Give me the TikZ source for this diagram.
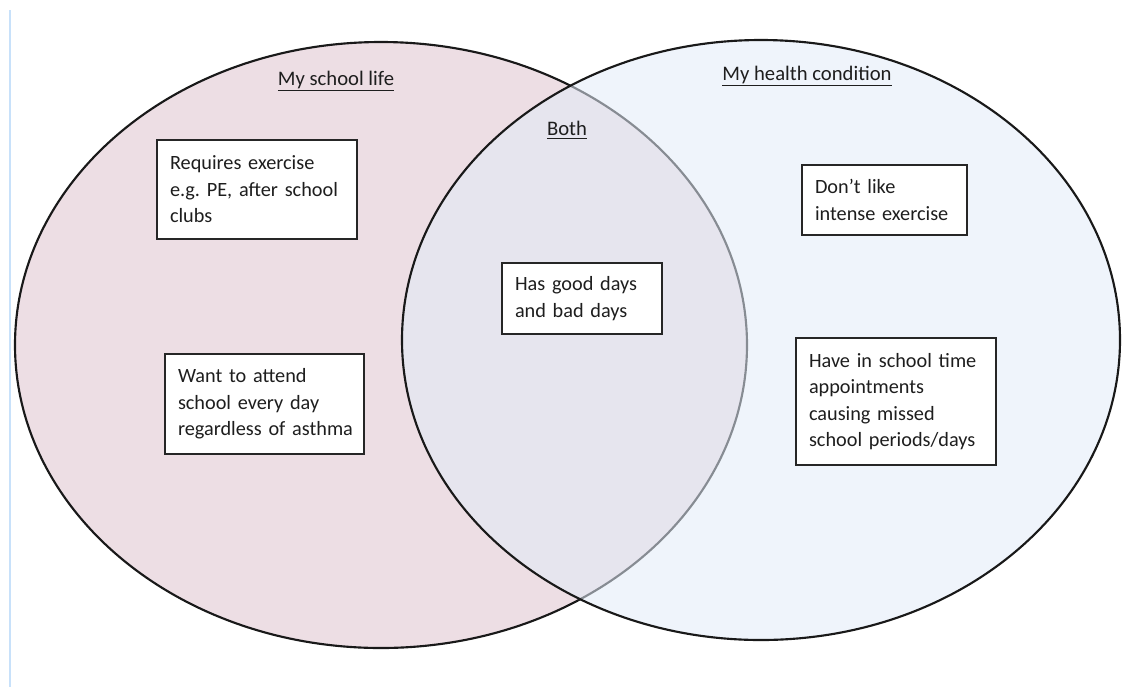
\documentclass[tikz,border=0pt]{standalone}
\usepackage{fontspec}
\setmainfont{Carlito}
\definecolor{pinkfill}{RGB}{237,222,228}
\definecolor{bluefill}{RGB}{226,235,248}
\definecolor{edgeline}{RGB}{200,225,250}
\definecolor{txt}{RGB}{30,30,30}
\begin{document}
\begin{tikzpicture}[x=0.75pt,y=-0.75pt,
  circ/.style={line width=1.6pt,draw=black!90},
  box/.style={draw=black!85,line width=1.1pt,fill=white,align=left,inner xsep=9.75pt,
    font=\fontsize{15.2}{19.9}\selectfont\frenchspacing,text=txt},
  head/.style={font=\fontsize{15.5}{19.8}\selectfont,text=txt,inner sep=0pt}]
\useasboundingbox (0,0) rectangle (1122,687);
\draw[edgeline,line width=1.5pt] (9.5,10) -- (9.5,687);
\path[circ,fill=pinkfill] (381,345) ellipse [x radius=366,y radius=303];
\path[circ,fill=bluefill,fill opacity=0.55] (761,340) ellipse [x radius=359,y radius=300];
\node[head] (l1) at (336,81) {\underline{My school life}};
\node[head] (l2) at (567,130) {\underline{Both}};
\node[head] (l3) at (807,76) {\underline{My health condition}};
\node[box,minimum width=150pt,minimum height=74.25pt,text width=130.5pt] (b1) at (257,189.5)
  {\mbox{Requires exercise}\\\mbox{e.g. PE, after school}\\clubs};
\node[box,minimum width=149.25pt,minimum height=75pt,text width=129.75pt] (b2) at (264.5,404)
  {\mbox{Want to attend}\\\mbox{school every day}\\\mbox{regardless of asthma}};
\node[box,minimum width=120pt,minimum height=53.25pt,text width=100.5pt] (b3) at (582,298.5)
  {\mbox{Has good days}\\\mbox{and bad days}};
\node[box,minimum width=123.75pt,minimum height=52.5pt,text width=104.25pt] (b4) at (884.5,200)
  {\mbox{Don’t like}\\\mbox{intense exercise}};
\node[box,minimum width=150pt,minimum height=95.25pt,text width=130.5pt] (b5) at (896,401.5)
  {\mbox{Have in school time}\\appointments\\\mbox{causing missed}\\\mbox{school periods/days}};
\end{tikzpicture}
\end{document}
